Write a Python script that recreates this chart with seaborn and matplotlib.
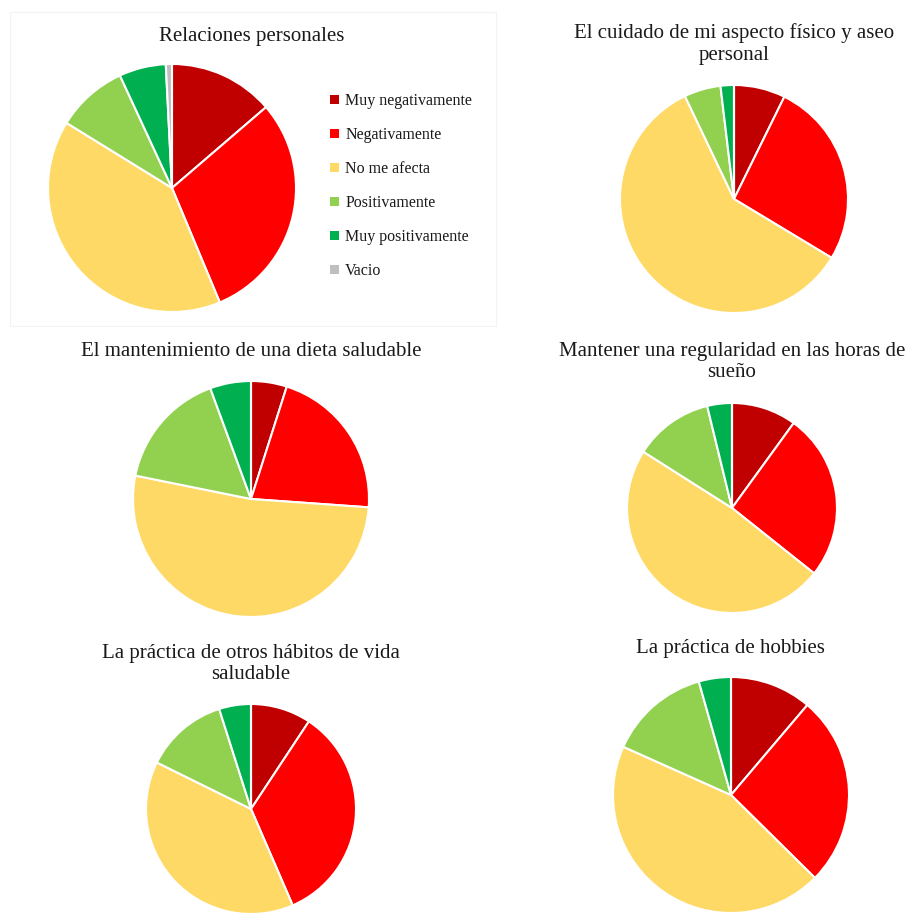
import matplotlib
matplotlib.use("Agg")
import matplotlib.pyplot as plt
from matplotlib.patches import Patch, Rectangle
import seaborn as sns

categorias = ["Muy negativamente", "Negativamente", "No me afecta",
              "Positivamente", "Muy positivamente", "Vacio"]

relaciones = [13.7, 30.0, 40.1, 9.3, 6.1, 0.8]
aspecto = [7.3, 26.4, 59.4, 5.2, 1.9, 0.0]
dieta = [4.9, 21.2, 52.0, 16.2, 5.6, 0.0]
sueno = [10.0, 25.7, 48.3, 12.2, 3.8, 0.0]
habitos = [9.3, 34.2, 38.8, 12.8, 4.9, 0.0]
hobbies = [11.2, 26.2, 44.3, 13.9, 4.4, 0.0]

titulos = ["Relaciones personales",
           "El cuidado de mi aspecto físico y aseo\npersonal",
           "El mantenimiento de una dieta saludable",
           "Mantener una regularidad en las horas de\nsueño",
           "La práctica de otros hábitos de vida\nsaludable",
           "La práctica de hobbies"]

colores = ["#C00000", "#FF0000", "#FFD966", "#92D050", "#00B050", "#BFBFBF"]

sns.set_theme(style="white")
plt.rcParams["font.family"] = ["Liberation Serif", "DejaVu Serif"]

W, H = 910, 915
fig = plt.figure(figsize=(W / 100, H / 100), dpi=100)

# faint frame around the first chart
fig.patches.append(Rectangle((10 / W, 1 - 326 / H), 486 / W, 314 / H,
                             transform=fig.transFigure, fill=False,
                             edgecolor="#f3f3f3", linewidth=0.8))

# pie centre, radius and title position in pixels
layout = [
    (relaciones, 172, 188, 124, 252, 36),
    (aspecto, 734, 199, 114, 734, 44),
    (dieta, 251, 499, 118, 251, 352),
    (sueno, 732, 508, 105, 732, 362),
    (habitos, 251, 809, 105, 251, 664),
    (hobbies, 731, 795, 118, 730, 648),
]

for (vals, cx, cy, r, tx, ty), titulo in zip(layout, titulos):
    ax = fig.add_axes([(cx - r) / W, 1 - (cy + r) / H, 2 * r / W, 2 * r / H])
    ax.pie(vals, colors=colores, startangle=90, counterclock=False,
           wedgeprops=dict(edgecolor="white", linewidth=1.5))
    ax.set_xlim(-1, 1)
    ax.set_ylim(-1, 1)
    ax.axis("off")
    fig.text(tx / W, 1 - ty / H, titulo, ha="center", va="center",
             fontsize=15, color="#1a1a1a", linespacing=1.2)

handles = [Patch(facecolor=c, edgecolor="none", label=l) for c, l in zip(colores, categorias)]
fig.legend(handles=handles, loc="upper left", bbox_to_anchor=(330 / W, 1 - 93 / H),
           frameon=False, fontsize=11.5, handlelength=0.55, handleheight=0.55,
           handletextpad=0.4, labelspacing=1.13, borderaxespad=0, borderpad=0,
           labelcolor="#1a1a1a")

plt.savefig("out.png", dpi=100)
